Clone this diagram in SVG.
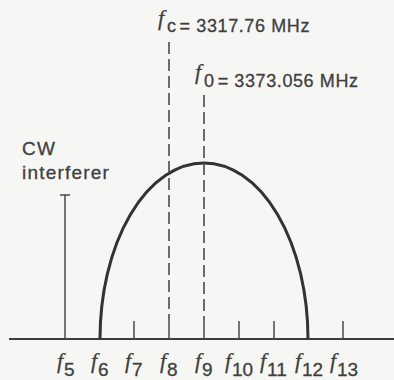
<svg xmlns="http://www.w3.org/2000/svg" width="394" height="380" viewBox="0 0 394 380">
<style>
.ax{stroke:#3c3c3c;stroke-width:2;fill:none}
.tk{stroke:#4a4a4a;stroke-width:1.5;fill:none}
.dash{stroke:#4a4a4a;stroke-width:1.6;stroke-dasharray:12 5;fill:none}
.curve{stroke:#333;stroke-width:3;fill:none}
.t{font-family:"Liberation Sans",Arial,sans-serif;font-size:18px;fill:#404040;stroke:#404040;stroke-width:0.3;letter-spacing:0.6px}
.cw{font-family:"Liberation Sans",Arial,sans-serif;font-size:19px;fill:#404040;stroke:#404040;stroke-width:0.3;letter-spacing:1.2px}
.fi{font-family:"Liberation Serif","Times New Roman",serif;font-style:italic;font-size:22px;fill:#404040;stroke:#404040;stroke-width:0.3}
.sub{font-family:"Liberation Sans",Arial,sans-serif;font-size:19px;fill:#404040;stroke:#404040;stroke-width:0.3}
</style>
<rect width="394" height="380" fill="#f6f6f4"/>
<g id="axis">
<line class="ax" x1="9" y1="339" x2="394" y2="339"/>
<line class="tk" x1="134" y1="321" x2="134" y2="339"/>
<line class="tk" x1="169" y1="321" x2="169" y2="339"/>
<line class="tk" x1="204" y1="321" x2="204" y2="339"/>
<line class="tk" x1="239" y1="321" x2="239" y2="339"/>
<line class="tk" x1="274" y1="321" x2="274" y2="339"/>
<line class="tk" x1="343" y1="321" x2="343" y2="339"/>
</g>
<g id="cw-interferer">
<line class="tk" x1="65" y1="195" x2="65" y2="339"/>
<line class="tk" x1="60" y1="195" x2="70" y2="195"/>
<text class="cw" x="22" y="155">CW</text>
<text class="cw" x="22" y="179">interferer</text>
</g>
<g id="spectrum">
<path class="curve" d="M100,339 A104,176 0 0 1 308,339"/>
</g>
<g id="connectors">
<line class="dash" x1="169" y1="42" x2="169" y2="321"/>
<line class="dash" x1="204" y1="95" x2="204" y2="321"/>
</g>
<g id="fc-label">
<text x="158" y="25" class="fi">f</text>
<text class="t" x="167" y="32"><tspan>c</tspan><tspan dx="3">= 3317.76 MHz</tspan></text>
</g>
<g id="f0-label">
<text x="195" y="79" class="fi">f</text>
<text class="t" x="204" y="87"><tspan>0</tspan><tspan dx="3">= 3373.056 MHz</tspan></text>
</g>
<g id="labels">
<text x="57" y="368" class="fi">f</text><text x="64" y="376" class="sub">5</text>
<text x="91" y="368" class="fi">f</text><text x="98" y="376" class="sub">6</text>
<text x="125" y="368" class="fi">f</text><text x="132" y="376" class="sub">7</text>
<text x="160" y="368" class="fi">f</text><text x="167" y="376" class="sub">8</text>
<text x="195" y="368" class="fi">f</text><text x="202" y="376" class="sub">9</text>
<text x="225" y="368" class="fi">f</text><text x="232" y="376" class="sub">10</text>
<text x="260" y="368" class="fi">f</text><text x="267" y="376" class="sub">11</text>
<text x="295" y="368" class="fi">f</text><text x="302" y="376" class="sub">12</text>
<text x="330" y="368" class="fi">f</text><text x="337" y="376" class="sub">13</text>
</g>
</svg>
